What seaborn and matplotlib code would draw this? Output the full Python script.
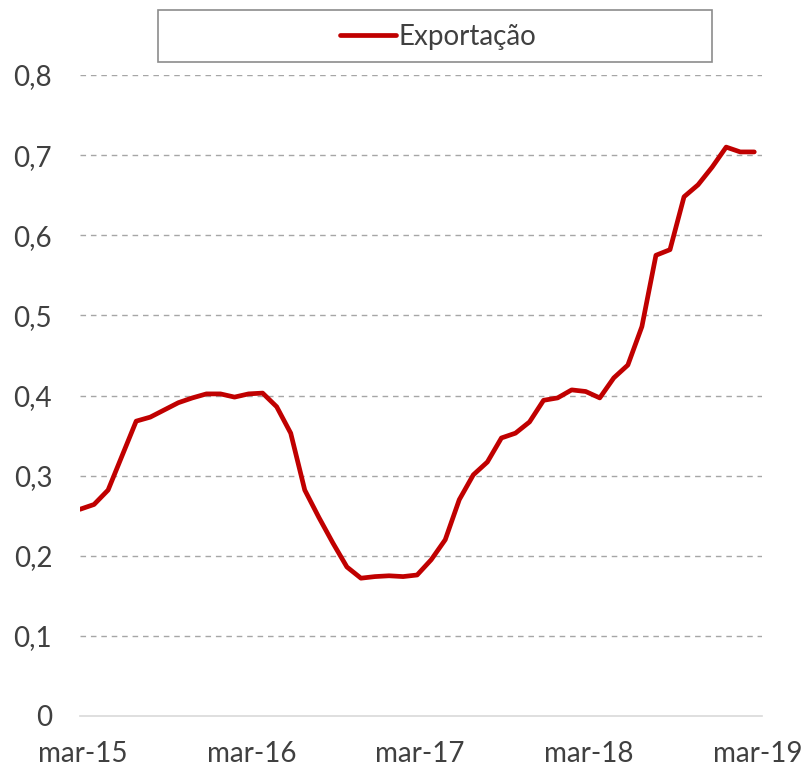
import matplotlib
matplotlib.use("Agg")
import matplotlib.pyplot as plt
import matplotlib.transforms as mtransforms
import seaborn as sns
import pandas as pd
import numpy as np
from matplotlib.patches import Rectangle
from matplotlib.lines import Line2D

# Monthly data, mar-15 .. mar-19
values = [0.258, 0.264, 0.282, 0.325, 0.368, 0.373, 0.382, 0.391, 0.397, 0.402,
          0.402, 0.398, 0.402, 0.403, 0.386, 0.353, 0.282, 0.248, 0.216, 0.186,
          0.172, 0.174, 0.175, 0.174, 0.176, 0.195, 0.220, 0.270, 0.301, 0.317,
          0.347, 0.353, 0.367, 0.394, 0.397, 0.407, 0.405, 0.397, 0.422, 0.438,
          0.486, 0.575, 0.582, 0.648, 0.663, 0.685, 0.710, 0.704, 0.704]
tick_labels = ["mar-15", "mar-16", "mar-17", "mar-18", "mar-19"]
yticks = [0, 0.1, 0.2, 0.3, 0.4, 0.5, 0.6, 0.7, 0.8]
ytick_labels = ["0", "0,1", "0,2", "0,3", "0,4", "0,5", "0,6", "0,7", "0,8"]
series_name = "Exportação"

df = pd.DataFrame({"idx": range(len(values)), "value": values})

sns.set_theme(style="white")
plt.rcParams["font.family"] = ["Lato", "DejaVu Sans"]

W, H = 802, 770
fig = plt.figure(figsize=(W / 100, H / 100), dpi=100)
ax = fig.add_axes([80 / W, 1 - 716 / H, (762 - 80) / W, (716 - 75) / H])

red = "#C00000"
sns.lineplot(data=df, x="idx", y="value", ax=ax, color=red, linewidth=3.4,
             solid_capstyle="round", solid_joinstyle="round", legend=False)

ax.set_xlim(0, 48.55)
ax.set_ylim(0, 0.8)
ax.set_xticks([0, 12, 24, 36, 48])
ax.set_xticklabels(tick_labels)
ax.set_yticks(yticks)
ax.set_yticklabels(ytick_labels)
ax.set_xlabel("")
ax.set_ylabel("")
ax.tick_params(axis="both", length=0, labelsize=20, colors="#404040")
ax.tick_params(axis="x", pad=18)
ax.tick_params(axis="y", pad=20)
shift = mtransforms.ScaledTranslation(3 / 100, 0, fig.dpi_scale_trans)
for lab in ax.get_xticklabels():
    lab.set_transform(lab.get_transform() + shift)

for y in yticks[1:]:
    ax.axhline(y, color="#A6A6A6", linewidth=1.0, linestyle=(0, (4, 3.5)), zorder=0)

for s in ["top", "right", "left"]:
    ax.spines[s].set_visible(False)
ax.spines["bottom"].set_color("#D9D9D9")
ax.spines["bottom"].set_linewidth(1.2)

# legend box
rect = Rectangle((158 / W, 1 - 62 / H), (712 - 158) / W, 52 / H, transform=fig.transFigure,
                 facecolor="white", edgecolor="#8C8C8C", linewidth=1.2)
fig.patches.append(rect)
handle = Line2D([], [], color=red, linewidth=3.4, solid_capstyle="round")
fig.legend([handle], [series_name], loc="center", bbox_to_anchor=(438 / W, 1 - 37 / H),
           frameon=False, fontsize=20, handlelength=2.0, handletextpad=0.1,
           labelcolor="#404040")

fig.savefig("out.png", dpi=100)
